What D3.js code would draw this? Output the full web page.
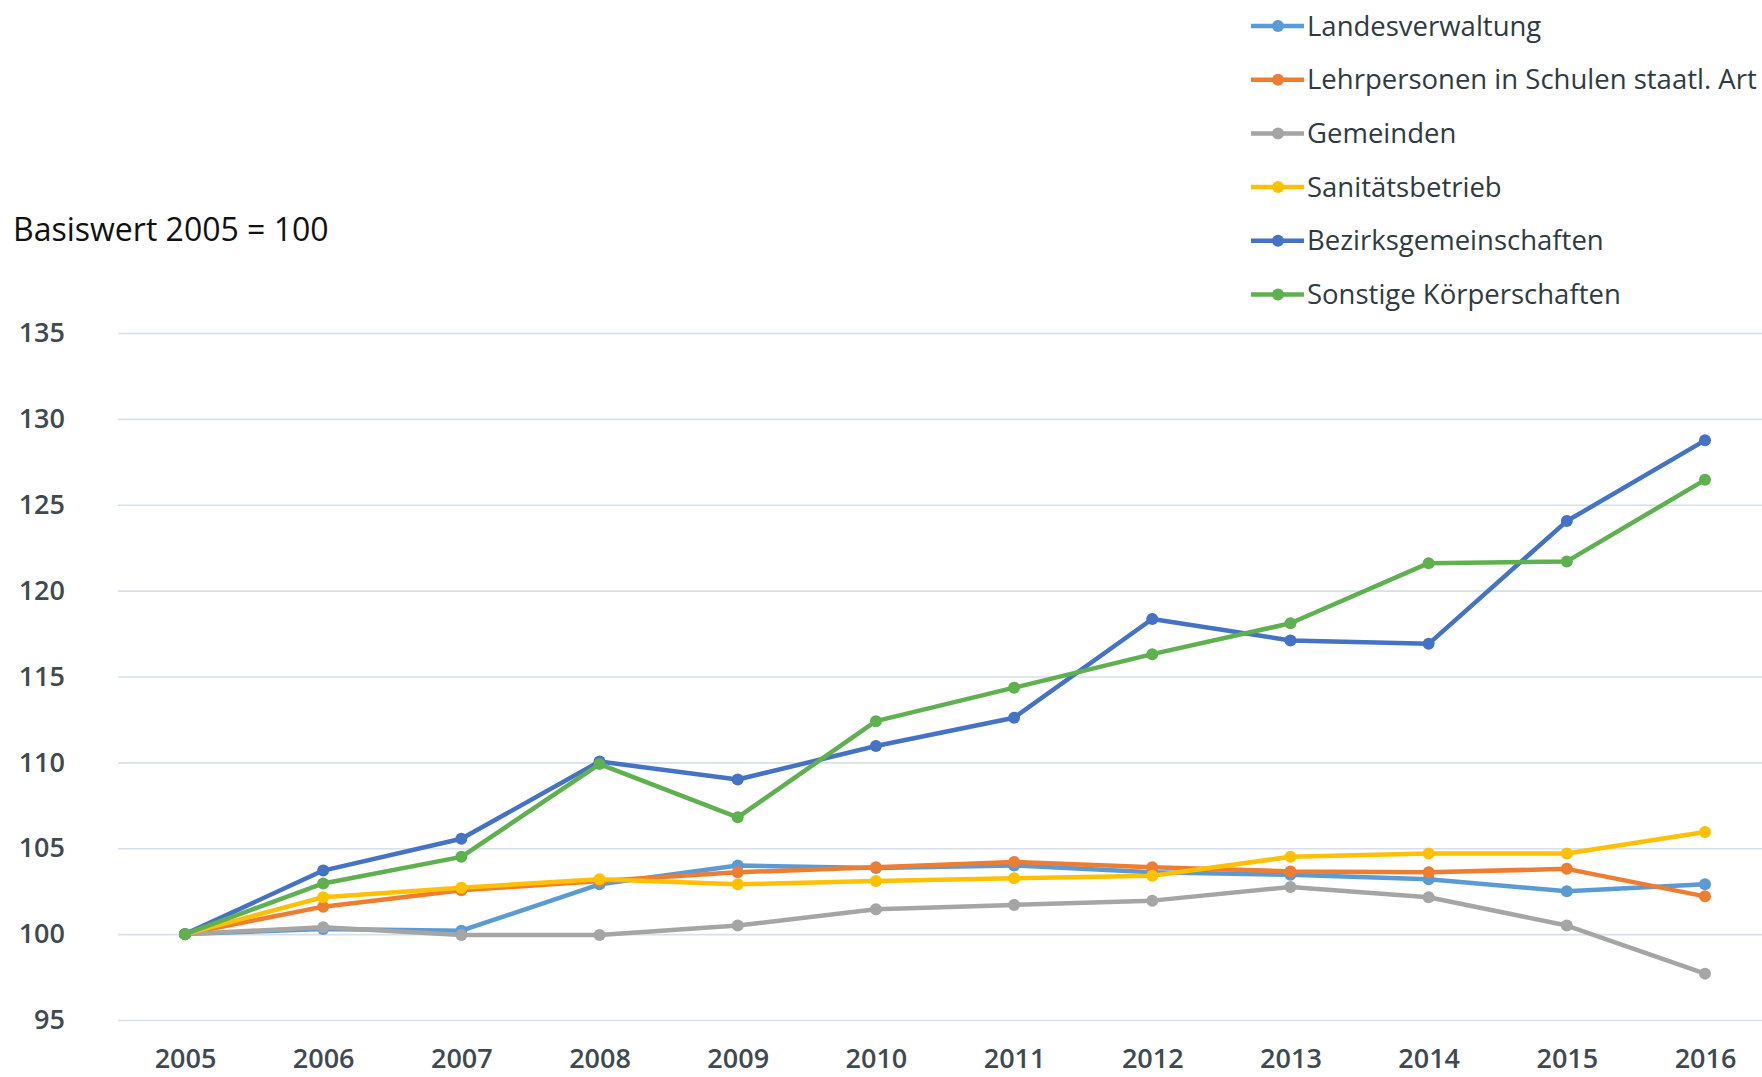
<!DOCTYPE html>
<html>
<head>
<meta charset="utf-8">
<script src="https://cdnjs.cloudflare.com/ajax/libs/d3/7.8.5/d3.min.js"></script>
<style>
  body { margin: 0; background: #fff; overflow: hidden; }
  text { font-family: "Open Sans", "DejaVu Sans", sans-serif; }
</style>
</head>
<body>
<div id="chart"></div>
<script>
// data
var years = ["2005", "2006", "2007", "2008", "2009", "2010", "2011", "2012", "2013", "2014", "2015", "2016"];
var yTicks = [95, 100, 105, 110, 115, 120, 125, 130, 135];
var seriesNames = ["Landesverwaltung", "Lehrpersonen in Schulen staatl. Art", "Gemeinden",
  "Sanitätsbetrieb", "Bezirksgemeinschaften", "Sonstige Körperschaften"];

var landesverwaltung = [100, 100.3, 100.2, 102.9, 104.0, 103.85, 104.0, 103.6, 103.45, 103.2, 102.5, 102.9];
var lehrpersonen = [100, 101.6, 102.55, 103.1, 103.6, 103.9, 104.2, 103.9, 103.65, 103.6, 103.8, 102.2];
var gemeinden = [100, 100.4, 99.95, 99.95, 100.5, 101.45, 101.7, 101.95, 102.75, 102.15, 100.5, 97.7];
var sanitaetsbetrieb = [100, 102.15, 102.7, 103.2, 102.9, 103.1, 103.25, 103.4, 104.5, 104.7, 104.7, 105.95];
var bezirksgemeinschaften = [100, 103.7, 105.55, 110.05, 109.0, 110.95, 112.6, 118.35, 117.1, 116.9, 124.05, 128.75];
var sonstige = [100, 102.95, 104.5, 109.9, 106.8, 112.4, 114.35, 116.3, 118.1, 121.6, 121.7, 126.45];

var seriesValues = [landesverwaltung, lehrpersonen, gemeinden, sanitaetsbetrieb, bezirksgemeinschaften, sonstige];
var colors = ["#5b9bd5", "#ed7d31", "#a5a5a5", "#ffc000", "#4472c4", "#5fb04f"];

// svg size
var svgWidth = 1762;
var svgHeight = 1077;

var svg = d3.select("#chart")
  .append("svg")
  .attr("width", svgWidth)
  .attr("height", svgHeight);

// scales
var xScale = d3.scalePoint()
  .domain(years)
  .range([185, 1705]);

var yScale = d3.scaleLinear()
  .domain([95, 135])
  .range([1020, 333]);

var gridLeft = 118;

// y axis with gridlines
var yAxis = d3.axisLeft(yScale)
  .tickValues(yTicks)
  .tickSize(-(svgWidth - gridLeft))
  .tickPadding(53);

var yAxisGroup = svg.append("g")
  .attr("transform", `translate(${gridLeft}, 0)`)
  .call(yAxis);

yAxisGroup.select(".domain").remove();
yAxisGroup.selectAll("line")
  .attr("stroke", "#d6e0ea")
  .attr("stroke-width", 1.6);
yAxisGroup.selectAll("text")
  .attr("fill", "#3f4a50")
  .style("font-size", "27px")
  .style("font-weight", "600");

// x axis labels
var xAxis = d3.axisBottom(xScale).tickSize(0);

var xAxisGroup = svg.append("g")
  .attr("transform", `translate(0, ${yScale(95)})`)
  .call(xAxis);

xAxisGroup.select(".domain").remove();
xAxisGroup.selectAll("text")
  .attr("y", 48)
  .attr("dy", null)
  .attr("fill", "#3f4a50")
  .style("font-size", "27px")
  .style("font-weight", "600");

// title
svg.append("text")
  .attr("x", 13)
  .attr("y", 241)
  .attr("fill", "#111")
  .style("font-size", "32px")
  .text("Basiswert 2005 = 100");

// lines
var line = d3.line()
  .x((d, i) => xScale(years[i]))
  .y(d => yScale(d));

seriesValues.forEach((vals, s) => {
  svg.append("path")
    .datum(vals)
    .attr("fill", "none")
    .attr("stroke", colors[s])
    .attr("stroke-width", 4.5)
    .attr("stroke-linejoin", "round")
    .attr("d", line);

  svg.selectAll(".dot" + s)
    .data(vals)
    .enter()
    .append("circle")
    .attr("class", "dot" + s)
    .attr("cx", (d, i) => xScale(years[i]))
    .attr("cy", d => yScale(d))
    .attr("r", 6)
    .attr("fill", colors[s]);
});

// legend
var legend = svg.append("g")
  .attr("transform", "translate(1251, 26)");

var legendRows = legend.selectAll("g")
  .data(seriesNames)
  .enter()
  .append("g")
  .attr("transform", (d, i) => `translate(0, ${i * 53.7})`);

legendRows.append("line")
  .attr("x1", 0)
  .attr("x2", 53)
  .attr("stroke", (d, i) => colors[i])
  .attr("stroke-width", 4.5);

legendRows.append("circle")
  .attr("cx", 27)
  .attr("r", 6)
  .attr("fill", (d, i) => colors[i]);

legendRows.append("text")
  .attr("x", 56)
  .attr("dy", "0.35em")
  .attr("fill", "#2f3b40")
  .style("font-size", "27.5px")
  .text(d => d);
</script>
</body>
</html>
